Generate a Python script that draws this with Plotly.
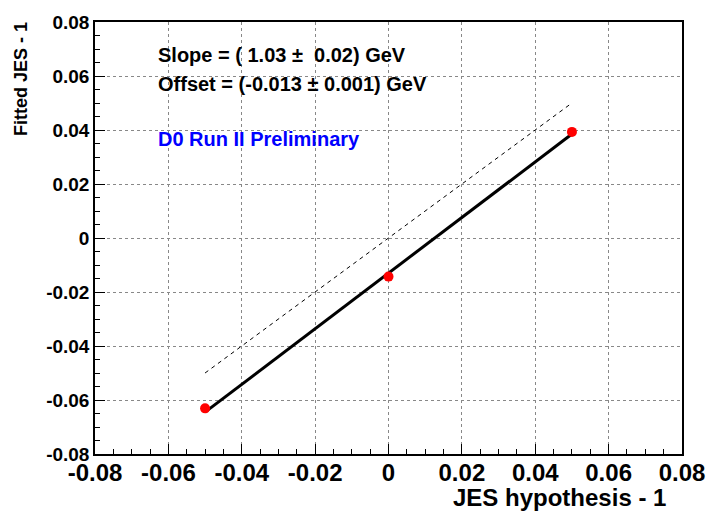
import numpy as np
import plotly.graph_objects as go

jes_hyp = [-0.05, 0.0, 0.05]
fitted = [-0.0631, -0.0143, 0.0393]
slope = 1.03
offset = -0.013
x_ticks = [-0.08, -0.06, -0.04, -0.02, 0, 0.02, 0.04, 0.06, 0.08]
x_labels = ["-0.08", "-0.06", "-0.04", "-0.02", "0", "0.02", "0.04", "0.06", "0.08"]
y_labels = x_labels

FONT = "Arial, Liberation Sans, Helvetica, sans-serif"

fig = go.Figure()
xr = np.array([min(jes_hyp), max(jes_hyp)])
fig.add_trace(go.Scatter(x=xr, y=xr, mode="lines",
                         line=dict(color="black", width=1, dash="4px,4px"), hoverinfo="skip"))
fig.add_trace(go.Scatter(x=xr, y=slope * xr + offset, mode="lines",
                         line=dict(color="black", width=3), hoverinfo="skip"))
fig.add_trace(go.Scatter(x=jes_hyp, y=fitted, mode="markers",
                         marker=dict(color="red", size=10)))

axis_common = dict(range=[-0.08, 0.08], showline=True, linecolor="black", linewidth=1.5,
                   mirror=True, ticks="inside", ticklen=10, tickwidth=1, tickcolor="black",
                   showgrid=True, gridcolor="#888888", griddash="dot", gridwidth=1,
                   zeroline=False, tickvals=x_ticks,
                   minor=dict(dtick=0.005, ticks="inside", ticklen=5, tickcolor="black", showgrid=False))

fig.update_xaxes(**axis_common, ticktext=["<b>%s</b>" % t for t in x_labels],
                 tickfont=dict(family=FONT, size=24, color="black"), ticklabelstandoff=-4)
fig.update_yaxes(**axis_common, ticktext=["<b>%s</b>" % t for t in y_labels],
                 tickfont=dict(family=FONT, size=19, color="black"))

fig.add_annotation(text="<b>JES hypothesis - 1</b>", xref="paper", yref="paper", x=1, y=0,
                   xanchor="right", yanchor="top", yshift=-28, xshift=-14, showarrow=False,
                   font=dict(family=FONT, size=24, color="black"))
fig.add_annotation(text="<b>Fitted JES - 1</b>", xref="paper", yref="paper", x=0, y=1,
                   xanchor="center", yanchor="top", xshift=-74, yshift=2, textangle=-90, showarrow=False,
                   font=dict(family=FONT, size=18, color="black"))
fig.add_annotation(text="<b>Slope = ( 1.03 \u00b1  0.02) GeV</b>", x=-0.0635, y=0.0679, xanchor="left",
                   yanchor="middle", showarrow=False,
                   font=dict(family=FONT, size=20, color="black"))
fig.add_annotation(text="<b>Offset = (-0.013 \u00b1 0.001) GeV</b>", x=-0.0635, y=0.0569, xanchor="left",
                   yanchor="middle", showarrow=False,
                   font=dict(family=FONT, size=20, color="black"))
fig.add_annotation(text="<b>D0 Run II Preliminary</b>", x=-0.0635, y=0.0365, xanchor="left",
                   yanchor="middle", showarrow=False,
                   font=dict(family=FONT, size=20, color="#0000ff"))

fig.update_layout(width=717, height=513, margin=dict(l=95, r=29, t=18, b=59),
                  paper_bgcolor="white", plot_bgcolor="white", showlegend=False)

fig.write_html("out.html")
